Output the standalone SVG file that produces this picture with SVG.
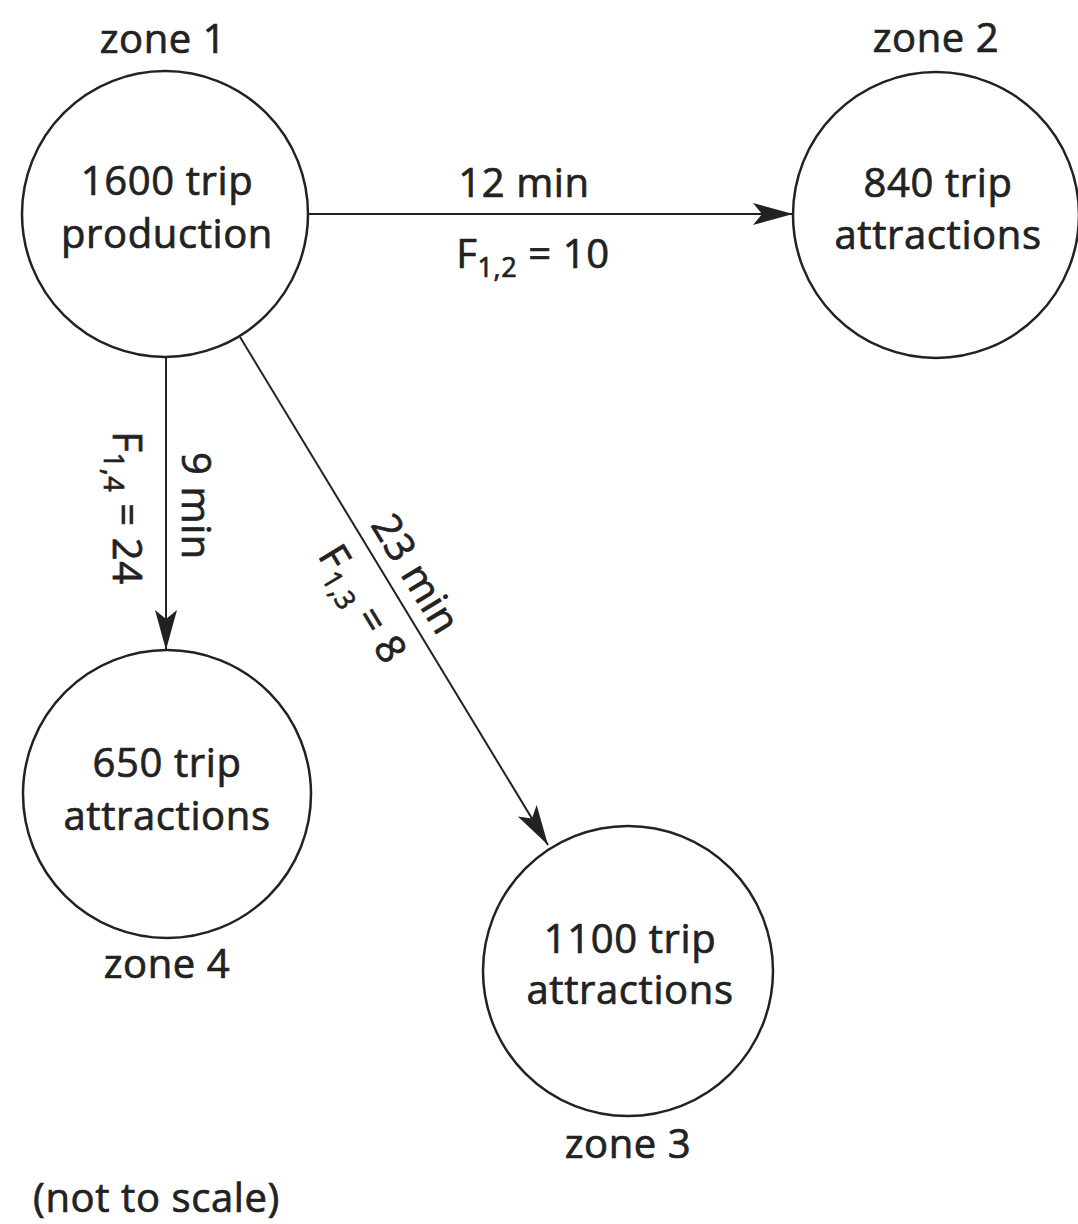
<svg xmlns="http://www.w3.org/2000/svg" width="1078" height="1224" viewBox="0 0 1078 1224">
<style>
text{font-family:"Open Sans","Liberation Sans",sans-serif;font-size:40px;fill:#222;stroke:#222;stroke-width:0.7;text-anchor:middle;letter-spacing:0.6px}
.node{fill:#fff;stroke:#222;stroke-width:2.5}
.edge{stroke:#222;stroke-width:2;fill:none}
.sub{font-size:27px}
</style>
<defs>
<marker id="arr" markerUnits="userSpaceOnUse" markerWidth="42" markerHeight="24" refX="40" refY="11" orient="auto">
<path d="M0,0 L40,11 L0,22 L9,11 Z" fill="#222"/>
</marker>
</defs>
<rect width="1078" height="1224" fill="#fff"/>
<g id="connectors">
<line class="edge" x1="308" y1="214" x2="793" y2="214" marker-end="url(#arr)"/>
<line class="edge" x1="166" y1="358" x2="166" y2="650" marker-end="url(#arr)"/>
<line class="edge" x1="240" y1="337" x2="548" y2="845" marker-end="url(#arr)"/>
<text x="524" y="197">12 min</text>
<text x="533" y="268">F<tspan class="sub" dy="9">1,2</tspan><tspan dy="-9"> = 10</tspan></text>
<text transform="translate(182,506) rotate(90)">9 min</text>
<text transform="translate(113,508) rotate(90)">F<tspan class="sub" dy="9">1,4</tspan><tspan dy="-9"> = 24</tspan></text>
<text transform="translate(404,581) rotate(58.8)">23 min</text>
<text transform="translate(351,611) rotate(58.8)">F<tspan class="sub" dy="9">1,3</tspan><tspan dy="-9"> = 8</tspan></text>
</g>
<g id="zone1">
<circle class="node" cx="165" cy="214" r="143"/>
<text x="163" y="53">zone 1</text>
<text x="167" y="195">1600 trip</text>
<text x="167" y="248">production</text>
</g>
<g id="zone2">
<circle class="node" cx="936" cy="215" r="143"/>
<text x="936" y="52">zone 2</text>
<text x="938" y="197">840 trip</text>
<text x="938" y="249">attractions</text>
</g>
<g id="zone4">
<circle class="node" cx="167" cy="794" r="144"/>
<text x="167" y="777">650 trip</text>
<text x="167" y="830">attractions</text>
<text x="167" y="978">zone 4</text>
</g>
<g id="zone3">
<circle class="node" cx="628" cy="971" r="145"/>
<text x="630" y="953">1100 trip</text>
<text x="630" y="1004">attractions</text>
<text x="628" y="1158">zone 3</text>
</g>
<text x="33" y="1212" style="text-anchor:start">(not to scale)</text>
</svg>
